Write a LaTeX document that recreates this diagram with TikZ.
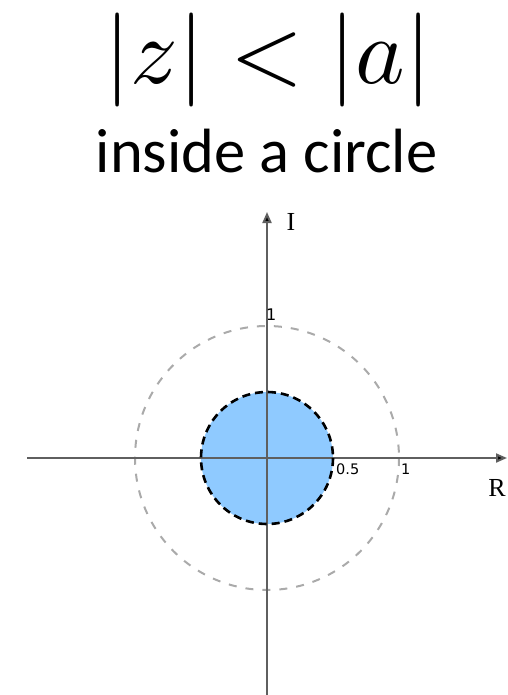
\documentclass[tikz,border=0pt]{standalone}
\usepackage{fontspec}
\newfontfamily\calib{Carlito}
\newfontfamily\djs{DejaVu Sans}
\newfontfamily\tms{Liberation Serif}
\usetikzlibrary{arrows.meta}
\definecolor{fillblue}{RGB}{143,202,255}
\definecolor{axisgray}{RGB}{95,95,95}
\definecolor{outergray}{RGB}{170,170,170}
\tikzset{
  axisline/.style={draw=axisgray, line width=2pt, -{Triangle[length=11pt,width=9pt,fill=black]}},
  ticklab/.style={font=\djs\fontsize{14.5}{14.5}\selectfont, inner sep=0pt, anchor=base west},
  axislab/.style={font=\tms\fontsize{26}{26}\selectfont, inner sep=0pt},
}
\begin{document}
\begin{tikzpicture}[x=1pt,y=-1pt]
\useasboundingbox (0,0) rectangle (507,695);
% title
\node[inner sep=0pt, scale=9.4] (title) at (268,60.5) {$|z| < |a|$};
\node[inner sep=0pt, anchor=base] (sub) at (266.5,172) {\calib\fontsize{62.5}{62.5}\selectfont inside a circle};
% coordinates
\coordinate (O) at (267,458);
\coordinate (xl) at (27,458);
\coordinate (xr) at (507,458);
\coordinate (yb) at (267,695);
\coordinate (yt) at (267,212);
% outer dashed circle
\draw[outergray, line width=2pt, dash pattern=on 8pt off 9pt] (O) circle[radius=132];
% inner filled circle
\fill[fillblue] (O) circle[radius=66];
% axes
\draw[axisline] (xl) -- (xr);
\draw[axisline] (yb) -- (yt);
\draw[black, line width=2.6pt, dash pattern=on 8pt off 5pt] (O) circle[radius=66];
% labels
\node[ticklab] (l05) at (336,474) {0.5};
\node[ticklab] (l1) at (401,474) {1};
\node[ticklab, font=\djs\fontsize{16}{16}\selectfont] (ly1) at (266,320) {1};
\node[axislab] (I) at (291,222) {I};
\node[axislab] (R) at (497,488) {R};
\end{tikzpicture}
\end{document}
